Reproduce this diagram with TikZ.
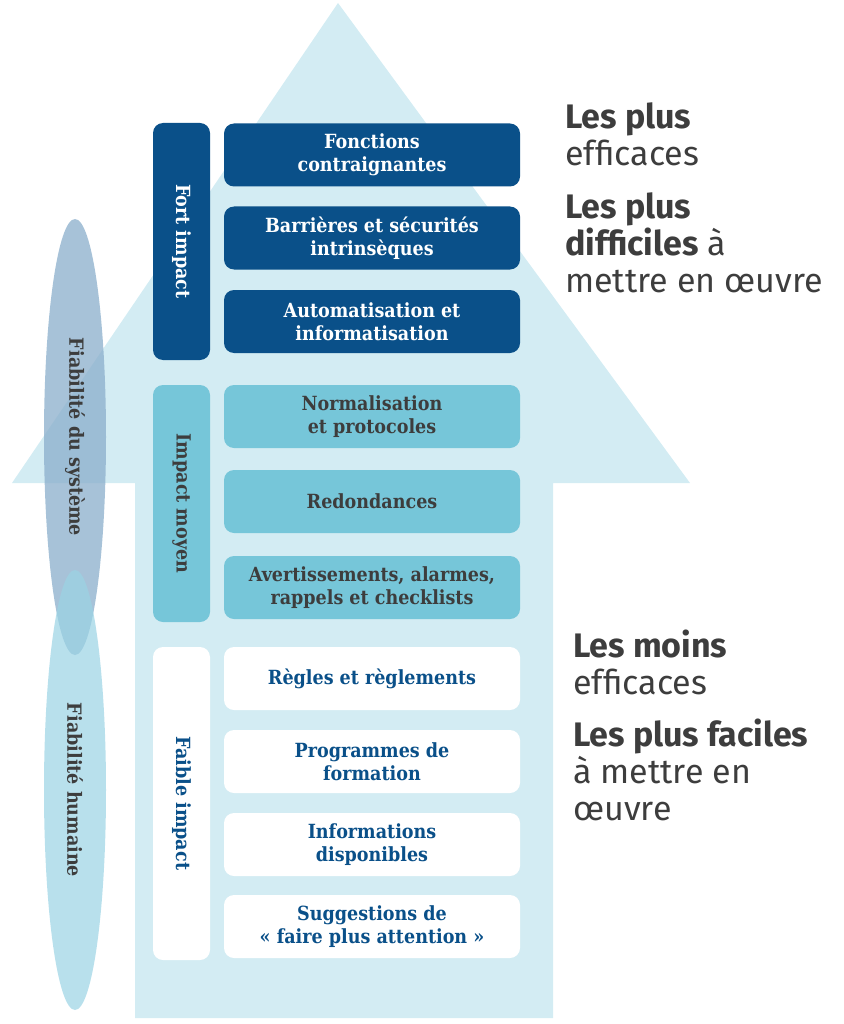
\documentclass[tikz,border=0pt]{standalone}
\usepackage{fontspec}
\setmainfont{Fira Sans}
\newfontfamily\slabfont{DejaVu Serif Condensed}
\usetikzlibrary{positioning}
\definecolor{arrowblue}{HTML}{D3ECF3}
\definecolor{darkblue}{HTML}{0A5089}
\definecolor{midblue}{HTML}{76C6D9}
\definecolor{txtgrey}{HTML}{3D3D3D}
\definecolor{sysblue}{HTML}{8AAECB}
\definecolor{humblue}{HTML}{9AD3E4}
\tikzset{
  measure/.style={rounded corners=10pt, minimum width=296pt, minimum height=63pt,
    align=center, font=\slabfont\bfseries\fontsize{19.5}{23}\selectfont, inner sep=0pt},
  strong/.style={measure, fill=darkblue, text=white},
  medium/.style={measure, fill=midblue, text=txtgrey},
  weak/.style={measure, fill=white, text=darkblue},
  level/.style={rounded corners=10pt, minimum height=57pt, rotate=-90,
    font=\slabfont\bfseries\fontsize{19.5}{23}\selectfont, inner sep=0pt},
  side/.style={anchor=north west, align=left, text=txtgrey, inner sep=0pt,
    font=\fontsize{34}{37}\selectfont},
}
\begin{document}
\begin{tikzpicture}[x=1pt,y=-1pt]
\useasboundingbox (0,0) rectangle (843,1024);
% arrow
\fill[arrowblue] (338,3) -- (690,483) -- (553,483) -- (553,1018) -- (135,1018)
  -- (135,483) -- (12,483) -- cycle;
% reliability ellipses
\fill[sysblue, fill opacity=0.75] (75,437) ellipse [x radius=31, y radius=218];
\fill[humblue, fill opacity=0.7] (75,790) ellipse [x radius=31, y radius=220];
\node[rotate=-90, font=\slabfont\bfseries\fontsize{19.5}{23}\selectfont, text=txtgrey]
  (sys) at (75,437) {Fiabilité du système};
\node[rotate=-90, font=\slabfont\bfseries\fontsize{19.5}{23}\selectfont, text=txtgrey]
  (hum) at (75,790) {Fiabilité humaine};
% impact levels
\node[level, fill=darkblue, text=white, minimum width=237pt] (fort) at (181.5,241.5) {Fort impact};
\node[level, fill=midblue, text=txtgrey, minimum width=237pt] (moyen) at (181.5,503.5) {Impact moyen};
\node[level, fill=white, text=darkblue, minimum width=313pt] (faible) at (181.5,803.5) {Faible impact};
% measures
\node[strong] (fonc) at (372,155) {Fonctions\\contraignantes};
\node[strong] (barr) at (372,238) {Barrières et sécurités\\intrinsèques};
\node[strong] (auto) at (372,321.5) {Automatisation et\\informatisation};
\node[medium] (norm) at (372,416.5) {Normalisation\\et protocoles};
\node[medium] (redo) at (372,501.5) {Redondances};
\node[medium] (aver) at (372,587.5) {Avertissements, alarmes,\\rappels et checklists};
\node[weak] (regl) at (372,678.5) {Règles et règlements};
\node[weak] (prog) at (372,761.5) {Programmes de\\formation};
\node[weak] (info) at (372,844.5) {Informations\\disponibles};
\node[weak] (sugg) at (372,926.5) {Suggestions de\\« faire plus attention »};
% side notes
\node[side] (top1) at (565,102) {\textbf{Les plus}\\efficaces};
\node[side] (top2) at (565,192) {\textbf{Les plus}\\\textbf{difficiles} à\\mettre en œuvre};
\node[side] (bot1) at (573,630) {\textbf{Les moins}\\efficaces};
\node[side] (bot2) at (573,719) {\textbf{Les plus faciles}\\à mettre en\\œuvre};
\end{tikzpicture}
\end{document}
